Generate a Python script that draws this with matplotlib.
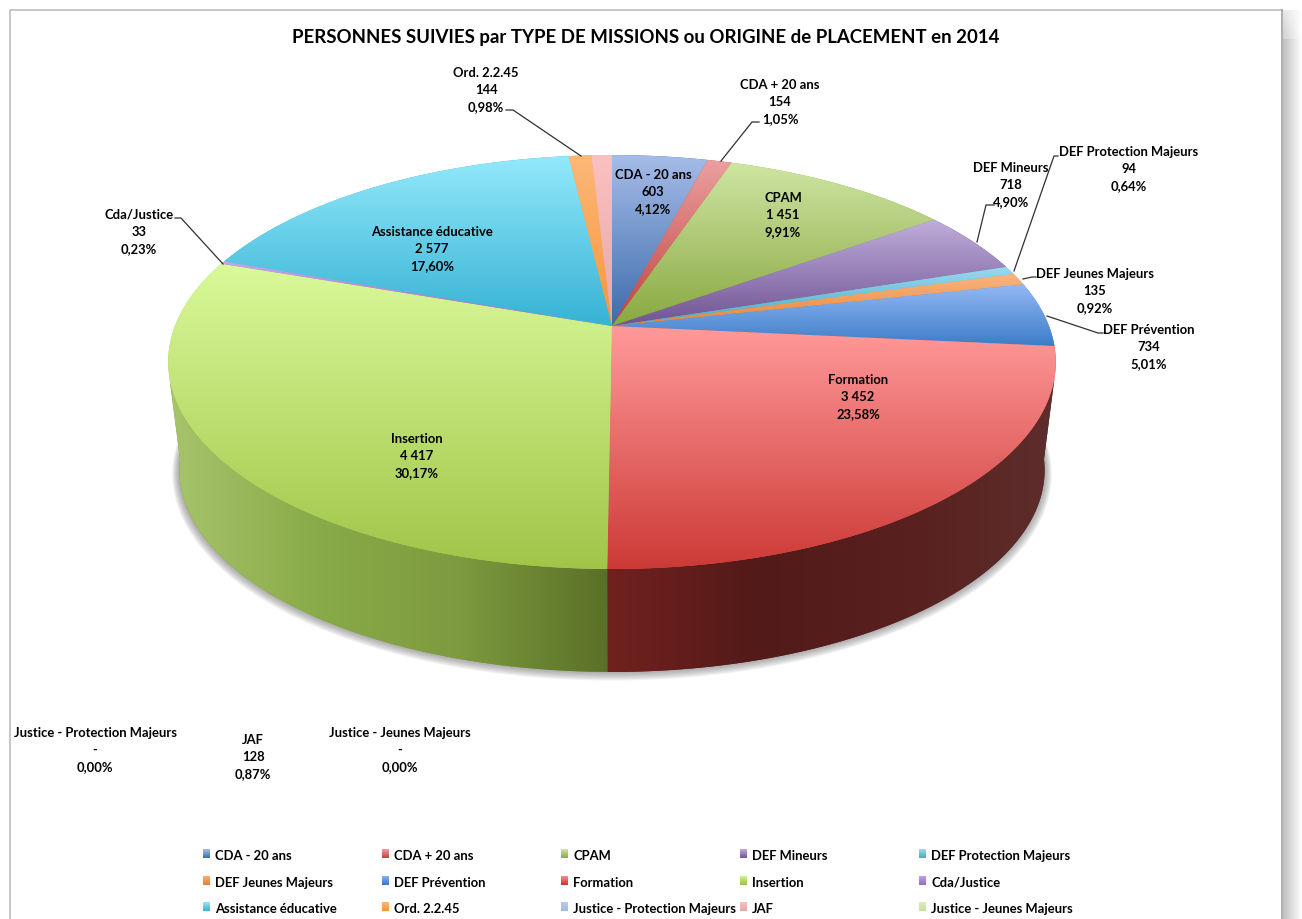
import numpy as np
import matplotlib
matplotlib.use('Agg')
import matplotlib.pyplot as plt
from matplotlib.colors import LinearSegmentedColormap
from matplotlib.patches import Polygon

categories = ['CDA - 20 ans', 'CDA + 20 ans', 'CPAM', 'DEF Mineurs', 'DEF Protection Majeurs',
              'DEF Jeunes Majeurs', 'DEF Prévention', 'Formation', 'Insertion', 'Cda/Justice',
              'Assistance éducative', 'Ord. 2.2.45', 'Justice - Protection Majeurs', 'JAF',
              'Justice - Jeunes Majeurs']
values = [603, 154, 1451, 718, 94, 135, 734, 3452, 4417, 33, 2577, 144, 0, 128, 0]

# light (top) and dark (bottom) colour of every slice
light = ['#a6bce8', '#eba0a0', '#cfe5a3', '#c0aedb', '#9adbf0', '#fbb57f', '#93b9f4', '#ff9a9a',
         '#daf99a', '#c4a8e4', '#93e9fb', '#fdb878', '#b9cdf0', '#fcc0c0', '#dcf0b8']
dark = ['#3b6cab', '#c0423f', '#89a841', '#6f5392', '#4aa8c4', '#e5853a', '#3c7cc8', '#cc3a36',
        '#a0c548', '#9a70c8', '#36b2d4', '#f79638', '#a0b8e0', '#e6a8a8', '#c8e0a0']
wall_colors = {7: ['#72211f', '#521a18', '#58201e', '#5e2e2c'],
               8: ['#a7c46b', '#8aab49', '#7d9a3e', '#5a7028']}

# centre of each label, pixels
label_pos = [(653, 192), (780, 102), (783, 215), (1011, 185), (1129, 169), (1095, 291), (1149, 347),
             (858, 397), (417, 456), (139, 232), (432, 249), (486, 90), (95, 750), (253, 757), (400, 750)]
leaders = [[(721, 162), (752, 123), (759, 123)],
           [(977, 243), (986, 206), (994, 206)],
           [(1014, 272), (1054, 157), (1058, 157)],
           [(1023, 280), (1032, 278), (1036, 278)],
           [(1047, 317), (1098, 334), (1103, 334)],
           [(223, 265), (181, 219), (175, 219)],
           [(581, 157), (513, 111), (506, 111)]]

plt.rcParams['font.family'] = ['Lato', 'DejaVu Sans']
plt.rcParams['font.weight'] = 'bold'

CX, CY = 612, 327
A, B, K = 437, 200.7, 0.174
WALL_TURN = 103  # degrees where the rim turns away from the viewer


def rim(deg, a=A, b=B, cy=CY):
    # perspective view of a circle, deg clockwise from the top
    t = np.radians(deg)
    w = 1 + K * np.cos(t)
    return CX + a * np.sin(t) / w, cy - b * np.cos(t) / w


def lower(deg, grow=0):
    return rim(deg, 426 + grow, 195.7 + grow * 0.6, 436)


def grad_fill(ax, pts, colors, horizontal=False, z=3):
    pts = np.asarray(pts)
    x0, y0 = pts.min(axis=0)
    x1, y1 = pts.max(axis=0)
    cmap = LinearSegmentedColormap.from_list('g', colors)
    g = np.linspace(0, 1, 256)
    g = g[None, :] if horizontal else g[:, None]
    ax.add_patch(Polygon(pts, closed=True, fc=colors[len(colors) // 2], ec='none', zorder=z - 0.5))
    im = ax.imshow(g, cmap=cmap, extent=(x0, x1, y1, y0), aspect='auto', zorder=z, interpolation='bilinear')
    clip = Polygon(pts, closed=True, transform=ax.transData)
    im.set_clip_path(clip)


fig = plt.figure(figsize=(13.02, 9.2), dpi=100)
ax = fig.add_axes([0, 0, 1, 1])

total = sum(values)
bounds = np.concatenate([[0], np.cumsum(values)]) * 360 / total

# sheet edges and the shadow on the right
ax.plot([10, 10, 1282], [920, 11, 11], color='#c6c6c6', lw=1.4, zorder=1)
ax.plot([1282, 1282], [11, 920], color='#9a9a9a', lw=1.1, zorder=1)
fade_x = np.linspace(0.75, 1.0, 64)[None, :].repeat(64, axis=0)
fade_y = np.clip(np.linspace(0.4, 1.6, 64), 0, 1)[:, None]
side = 1 - (1 - fade_x) * fade_y
ax.imshow(side[:20], cmap='gray', vmin=0, vmax=1, extent=(1283, 1302, 40, 11), aspect='auto', zorder=1)
ax.imshow(side[-1:], cmap='gray', vmin=0, vmax=1, extent=(1283, 1302, 920, 40), aspect='auto', zorder=1)

# soft shadow below the pie
steps = np.radians(np.linspace(0, 360, 361))
for grow in range(7, 0, -1):
    xs, ys = lower(np.degrees(steps), grow)
    ax.fill(xs, ys + grow * 0.5, color='#606060', alpha=0.09, lw=0, zorder=1.5)

# side walls
for i, colors in wall_colors.items():
    t0 = max(bounds[i], WALL_TURN)
    t1 = min(bounds[i + 1], 360 - WALL_TURN)
    ts = np.linspace(t0, t1, 200)
    ux, uy = rim(ts)
    if i == 7:
        ts2 = np.linspace(t0 - 6, t1, 200)
    else:
        ts2 = np.linspace(t0, t1 + 6, 200)
    lx, ly = lower(ts2)
    pts = np.column_stack([np.r_[ux, lx[::-1]], np.r_[uy, ly[::-1]]])
    grad_fill(ax, pts, colors, horizontal=True, z=2)

# top faces
for i, v in enumerate(values):
    if v == 0:
        continue
    ts = np.linspace(bounds[i], bounds[i + 1], max(int(v / total * 720), 3))
    xs, ys = rim(ts)
    pts = np.column_stack([np.r_[CX, xs], np.r_[CY, ys]])
    grad_fill(ax, pts, [light[i], dark[i]], z=3 + i * 0.01)

ax.text(646, 38, 'PERSONNES SUIVIES par TYPE DE MISSIONS ou ORIGINE de PLACEMENT en 2014',
        ha='center', va='center', fontsize=13.4, color='black', zorder=6)

for i, v in enumerate(values):
    val_txt = f'{v:,}'.replace(',', ' ') if v else '-'
    pct_txt = f'{100 * v / total:.2f}'.replace('.', ',') + '%'
    ax.text(label_pos[i][0], label_pos[i][1], f'{categories[i]}\n{val_txt}\n{pct_txt}',
            ha='center', va='center', ma='center', fontsize=9.35, linespacing=1.53, color='black', zorder=6)

for line in leaders:
    xs, ys = zip(*line)
    ax.plot(xs, ys, color='#303030', lw=0.9, zorder=5)

# legend, filled row by row
for i, name in enumerate(categories):
    row, col = divmod(i, 5)
    lx = 203 + col * 179
    ly = 855 + row * 26.5
    box = [(lx, ly - 5), (lx + 7, ly - 5), (lx + 7, ly + 4), (lx, ly + 4)]
    grad_fill(ax, box, [light[i], dark[i]], z=4)
    ax.text(lx + 12, ly + 1.5, name, ha='left', va='center', fontsize=9.35, color='black', zorder=6)

ax.set_xlim(0, 1302)
ax.set_ylim(920, 0)
ax.axis('off')
fig.savefig('out.png', dpi=100)
